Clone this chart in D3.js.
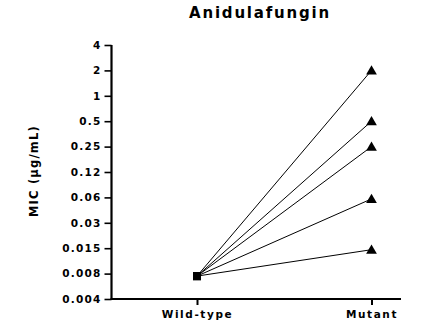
<!DOCTYPE html>
<html><head><meta charset="utf-8">
<script src="https://cdn.jsdelivr.net/npm/d3@7"></script>
<style>body{margin:0;background:#fff}svg{display:block}text{font-family:"DejaVu Sans",Verdana,sans-serif;font-weight:bold;fill:#000}</style>
</head><body><svg id="c" width="446" height="324"></svg>
<script>
const categories = ["Wild-type", "Mutant"];
const wildType = [0.0073, 0.0073, 0.0073, 0.0073, 0.0073];
const mutant = [2, 0.5, 0.25, 0.06, 0.015];
const tickValues = [4, 2, 1, 0.5, 0.25, 0.125, 0.0625, 0.03125, 0.015625, 0.0078125, 0.00390625];
const tickLabels = ["4", "2", "1", "0.5", "0.25", "0.12", "0.06", "0.03", "0.015", "0.008", "0.004"];
const title = "Anidulafungin";
const yTitle = "MIC (\u00b5g/mL)";

const svg = d3.select("#c");
const mLeft = 111.5, mRight = 401, mTop = 45, mBottom = 299;
const y = d3.scaleLog().base(2).domain([0.00390625, 4]).range([mBottom, mTop]);
const x = d3.scalePoint().domain(categories).range([197, 371.5]);
const fam = '"DejaVu Sans",Verdana,sans-serif';

const yAxis = svg.append("g").attr("transform", `translate(${mLeft},0)`)
  .call(d3.axisLeft(y).tickValues(tickValues).tickFormat((d, i) => tickLabels[i]).tickSize(7).tickPadding(3));
yAxis.select(".domain").attr("d", `M0,${mTop}V${mBottom}`).attr("stroke-width", 2.2);
yAxis.selectAll(".tick line").attr("stroke-width", 1.6);
yAxis.selectAll(".tick text").style("font-size", "10.5px").style("letter-spacing", "1.2px")
  .style("font-family", fam).style("font-weight", "bold");

const xAxis = svg.append("g").attr("transform", `translate(0,${mBottom})`)
  .call(d3.axisBottom(x).tickSize(6).tickPadding(6));
xAxis.select(".domain").attr("d", `M${mLeft - 1},0H${mRight}`).attr("stroke-width", 2.2);
xAxis.selectAll(".tick line").attr("stroke-width", 2);
xAxis.selectAll(".tick text").style("font-size", "10.5px").style("letter-spacing", "1.6px")
  .style("font-family", fam).style("font-weight", "bold");

const pairs = mutant.map((m, i) => [wildType[i], m]);
const line = d3.line().x((d, i) => x(categories[i])).y(d => y(d));
svg.append("g").selectAll("path").data(pairs).join("path")
  .attr("d", line).attr("fill", "none").attr("stroke", "#000").attr("stroke-width", 1);

svg.append("g").selectAll("path").data(wildType).join("path")
  .attr("d", d3.symbol(d3.symbolSquare, 64))
  .attr("transform", d => `translate(${x(categories[0])},${y(d)})`).attr("fill", "#000");
svg.append("g").selectAll("path").data(mutant).join("path")
  .attr("d", d3.symbol(d3.symbolTriangle, 50))
  .attr("transform", d => `translate(${x(categories[1])},${y(d) + 1})`).attr("fill", "#000");

svg.append("text").attr("x", 260).attr("y", 18).attr("text-anchor", "middle")
  .style("font-size", "15px").style("letter-spacing", "1.8px").text(title);
svg.append("text").attr("transform", "translate(37.5,171) rotate(-90)").attr("text-anchor", "middle")
  .style("font-size", "11.5px").style("letter-spacing", "1.2px").text(yTitle);
</script></body></html>
